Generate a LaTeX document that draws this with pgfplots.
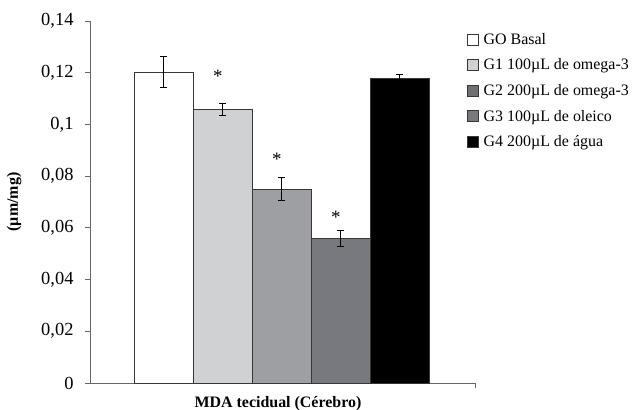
\documentclass[border=0pt]{standalone}
\usepackage{fontspec}
\setmainfont{Liberation Serif}
\usepackage{pgfplots}
\pgfplotsset{compat=1.18}
\definecolor{gA}{RGB}{255,255,255}
\definecolor{gB}{RGB}{208,209,211}
\definecolor{gC}{RGB}{157,159,163}
\definecolor{gD}{RGB}{120,121,126}
\definecolor{gE}{RGB}{0,0,0}
\definecolor{edge}{RGB}{55,55,55}
\begin{document}
\begin{tikzpicture}
\path[use as bounding box] (-90bp,-27bp) rectangle (542bp,383bp);
\begin{axis}[
  scale only axis,
  width=385bp, height=362bp,
  xmin=-0.246, xmax=6.28,
  ymin=0, ymax=0.14,
  axis x line*=bottom, axis y line*=left,
  axis line style={draw=gray!80!black, line width=0.8pt},
  ytick={0,0.02,...,0.14},
  xtick={6.28}, xticklabels={},
  tick align=outside,
  major tick length=5bp,
  tick style={draw=gray!80!black, line width=0.8pt},
  /pgf/number format/.cd, use comma, fixed, precision=2, assume math mode=true,
  /pgfplots/.cd,
  yticklabel style={font=\fontsize{18.5}{20}\selectfont, xshift=-8bp},
  ylabel={\textbf{(µm/mg)}},
  ylabel style={font=\fontsize{16}{18}\selectfont, at={(axis description cs:-0.197,0.5)}, anchor=center},
  xlabel={\textbf{MDA tecidual (Cérebro)}},
  xlabel style={font=\fontsize{16}{18}\selectfont, at={(axis cs:2.94,0)}, anchor=north, yshift=-10bp},
  ybar, bar shift=0pt, bar width=1,
  every axis plot/.append style={draw=edge, line width=0.8pt},
  error bars/y dir=both, error bars/y explicit,
  error bars/error mark options={rotate=90, mark size=3.5bp, line width=0.7pt, draw=black},
  error bars/error bar style={line width=0.7pt, draw=black},
  legend style={at={(0.979,0.972)}, anchor=north west, draw=none, fill=none,
    font=\fontsize{16}{18}\selectfont, row sep=9bp, inner sep=0pt},
  legend cell align=left,
  legend image code/.code={\draw[#1, line width=0.6pt] (0bp,-5.5bp) rectangle (11bp,5.5bp);},
  clip=false,
]
\addplot[fill=gA] coordinates {(1,0.1203) +- (0,0.0060)};
\addlegendentry{\hspace{3bp}GO Basal}
\addplot[fill=gB] coordinates {(2,0.1057) +- (0,0.0023)};
\addlegendentry{\hspace{3bp}G1 100µL de omega-3}
\addplot[fill=gC, legend image post style={fill=gD!92!black}] coordinates {(3,0.0750) +- (0,0.0045)};
\addlegendentry{\hspace{3bp}G2 200µL de omega-3}
\addplot[fill=gD] coordinates {(4,0.0560) +- (0,0.0031)};
\addlegendentry{\hspace{3bp}G3 100µL de oleico}
\addplot[fill=gE] coordinates {(5,0.1177) +- (0,0.0018)};
\addlegendentry{\hspace{3bp}G4 200µL de água}
\node[font=\fontsize{19}{19}\selectfont] at (axis cs:1.92,0.1185) {*};
\node[font=\fontsize{19}{19}\selectfont] at (axis cs:2.92,0.0865) {*};
\node[font=\fontsize{19}{19}\selectfont] at (axis cs:3.92,0.0641) {*};
\end{axis}
\end{tikzpicture}
\end{document}
